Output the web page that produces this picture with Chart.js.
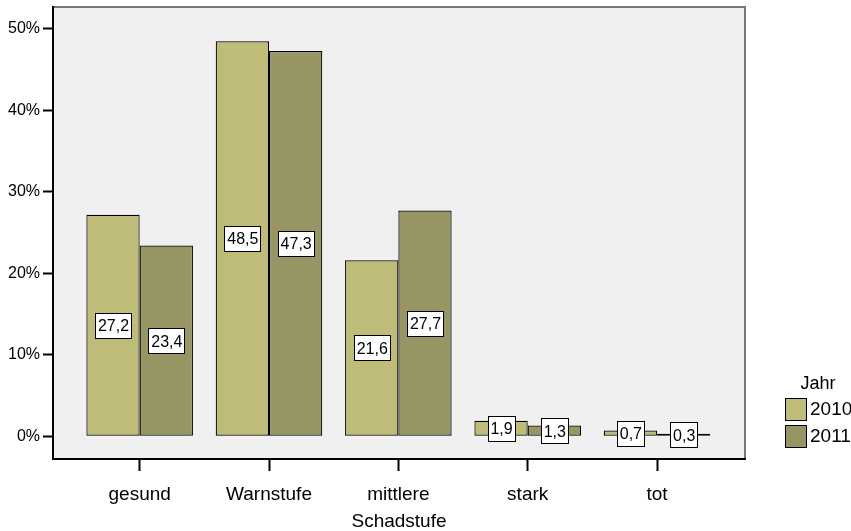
<!DOCTYPE html>
<html>
<head>
<meta charset="utf-8">
<script src="https://cdn.jsdelivr.net/npm/chart.js@4"></script>
<style>
  html, body { margin: 0; padding: 0; background: #fff; }
  #wrap { width: 851px; height: 531px; }
</style>
</head>
<body>
<div id="wrap"><canvas id="chart"></canvas></div>
<script>
// Schadstufe data, percentages per year
const categories = ['gesund', 'Warnstufe', 'mittlere', 'stark', 'tot'];
const years = ['2010', '2011'];
const values2010 = [27.2, 48.5, 21.6, 1.9, 0.7];
const values2011 = [23.4, 47.3, 27.7, 1.3, 0.3];
const yTicks = [0, 10, 20, 30, 40, 50];

const FONT = "'Liberation Sans', Arial, sans-serif";
const colors = ['#bfbb78', '#989564'];

const toPoints = (vals) => vals.map((v, i) => ({ x: i, y: v }));

// gray plot background + frame
const plotBg = {
  id: 'plotBg',
  beforeDraw(chart) {
    const { ctx, chartArea: a } = chart;
    ctx.save();
    ctx.fillStyle = '#f0f0f0';
    ctx.fillRect(a.left, a.top, a.right - a.left, a.bottom - a.top);
    ctx.strokeStyle = '#777';
    ctx.lineWidth = 2;
    ctx.strokeRect(a.left, a.top, a.right - a.left, a.bottom - a.top);
    ctx.restore();
  }
};

// white value boxes in the middle of every bar
const valueBoxes = {
  id: 'valueBoxes',
  afterDatasetsDraw(chart) {
    const ctx = chart.ctx;
    ctx.save();
    ctx.font = '16px ' + FONT;
    ctx.textAlign = 'center';
    ctx.textBaseline = 'middle';
    chart.data.datasets.forEach((ds, di) => {
      chart.getDatasetMeta(di).data.forEach((bar, i) => {
        const txt = ds.data[i].y.toFixed(1).replace('.', ',');
        const cy = (bar.y + bar.base) / 2;
        const w = Math.round(ctx.measureText(txt).width + 5);
        const h = 25;
        const x0 = Math.round(bar.x - w / 2), y0 = Math.round(cy - h / 2);
        ctx.fillStyle = '#fff';
        ctx.fillRect(x0, y0, w, h);
        ctx.strokeStyle = '#000';
        ctx.lineWidth = 1;
        ctx.strokeRect(x0 + 0.5, y0 + 0.5, w, h);
        ctx.fillStyle = '#000';
        ctx.fillText(txt, bar.x + 0.5, cy + 1.5);
      });
    });
    ctx.restore();
  }
};

// legend to the right, like the SPSS one
const sideLegend = {
  id: 'sideLegend',
  afterDraw(chart) {
    const ctx = chart.ctx;
    ctx.save();
    ctx.font = '18px ' + FONT;
    ctx.fillStyle = '#000';
    ctx.textAlign = 'center';
    ctx.textBaseline = 'middle';
    ctx.fillText('Jahr', 818, 384);
    ctx.font = '19px ' + FONT;
    ctx.textAlign = 'left';
    years.forEach((y, i) => {
      const top = 398 + i * 27;
      ctx.fillStyle = colors[i];
      ctx.fillRect(785, top, 21, 22);
      ctx.strokeStyle = '#000';
      ctx.lineWidth = 1;
      ctx.strokeRect(785.5, top + 0.5, 21, 22);
      ctx.fillStyle = '#000';
      ctx.fillText(y, 810, top + 12);
    });
    ctx.restore();
  }
};

new Chart(document.getElementById('chart'), {
  type: 'bar',
  data: {
    datasets: [
      { label: years[0], data: toPoints(values2010), backgroundColor: colors[0] },
      { label: years[1], data: toPoints(values2011), backgroundColor: colors[1] }
    ]
  },
  options: {
    responsive: true,
    maintainAspectRatio: false,
    animation: false,
    layout: { padding: { top: 7, right: 106, left: 0, bottom: 0 } },
    datasets: {
      bar: {
        borderColor: '#000',
        borderWidth: 1.2,
        borderSkipped: false,
        categoryPercentage: 0.824,
        barPercentage: 1
      }
    },
    plugins: {
      legend: { display: false },
      tooltip: { enabled: false }
    },
    scales: {
      x: {
        type: 'linear',
        offset: false,
        min: -0.67,
        max: 4.68,
        afterBuildTicks(scale) {
          scale.ticks = categories.map((c, i) => ({ value: i }));
        },
        afterFit(scale) {
          scale.height = 72;
          scale.paddingLeft = 0;
          scale.paddingRight = 0;
        },
        grid: { offset: false, drawOnChartArea: false, tickLength: 12, tickColor: '#000', tickWidth: 2 },
        border: { color: '#000', width: 2 },
        ticks: {
          padding: 12,
          color: '#000',
          maxRotation: 0,
          autoSkip: false,
          font: { family: FONT, size: 19 },
          callback: (v) => categories[v]
        },
        title: {
          display: true,
          text: 'Schadstufe',
          color: '#000',
          padding: { top: 0, bottom: -2 },
          font: { family: FONT, size: 19 }
        }
      },
      y: {
        min: -2.8,
        max: 52.7,
        afterBuildTicks(scale) {
          scale.ticks = yTicks.map((v) => ({ value: v }));
        },
        afterFit(scale) {
          scale.width = 53;
          scale.paddingTop = 0;
          scale.paddingBottom = 0;
        },
        grid: { drawOnChartArea: false, tickLength: 10, tickColor: '#000', tickWidth: 2 },
        border: { color: '#000', width: 2 },
        ticks: {
          padding: 3,
          color: '#000',
          font: { family: FONT, size: 16 },
          callback: (v) => v + '%'
        }
      }
    }
  },
  plugins: [plotBg, valueBoxes, sideLegend]
});
</script>
</body>
</html>
